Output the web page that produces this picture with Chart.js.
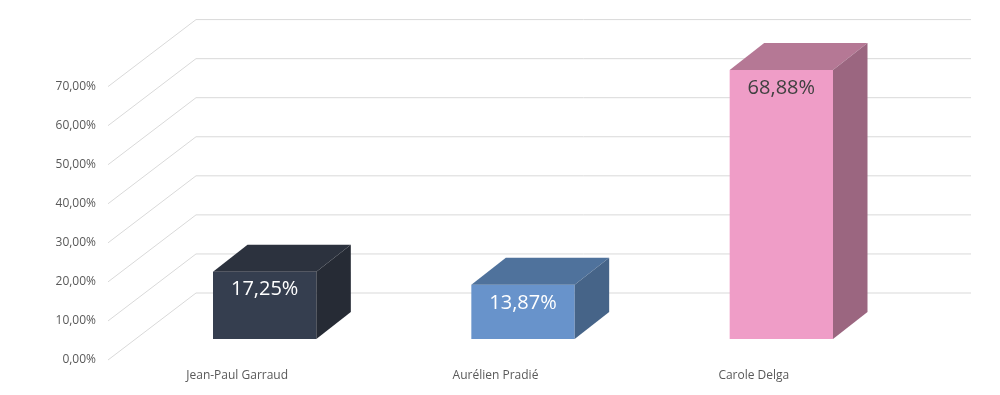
<!DOCTYPE html>
<html>
<head>
<meta charset="utf-8">
<script src="https://cdn.jsdelivr.net/npm/chart.js@4"></script>
<style>
  html, body { margin: 0; padding: 0; background: #fff; }
  #wrap { width: 1000px; height: 395px; }
</style>
</head>
<body>
<div id="wrap"><canvas id="c" width="1000" height="395"></canvas></div>
<script>
// --- DATOS ---
const candidats = ['Jean-Paul Garraud', 'Aurélien Pradié', 'Carole Delga'];
const scores = [17.25, 13.87, 68.88];
const yTicks = [0, 10, 20, 30, 40, 50, 60, 70];

// couleurs: face avant, dessus, côté
const faceColors = ['#353e4f', '#6893cb', '#ef9dc7'];
const topColors = ['#2c323e', '#4f729c', '#b57895'];
const sideColors = ['#262b35', '#466488', '#9b6680'];
const labelColors = ['#ffffff', '#ffffff', '#404040'];

// perspective (px)
const FRONT = { dx: -27.5, dy: 21 };   // plan des étiquettes
const BACK = { dx: 60.5, dy: -46 };    // mur du fond
const DEPTH = { dx: 34.5, dy: -27 };   // profondeur des barres

const fmt = v => v.toFixed(2).replace('.', ',') + '%';

// --- PLUGIN 3D ---
const pseudo3d = {
    id: 'pseudo3d',
    beforeDatasetsDraw(chart) {
        const { ctx, chartArea, scales } = chart;
        const y = scales.y;
        ctx.save();
        ctx.strokeStyle = '#d9d9d9';
        ctx.lineWidth = 1;
        yTicks.forEach(t => {
            const py = y.getPixelForValue(t);
            ctx.beginPath();
            ctx.moveTo(chartArea.left + FRONT.dx, py + FRONT.dy);
            ctx.lineTo(chartArea.left + BACK.dx, py + BACK.dy);
            ctx.lineTo(chartArea.right + BACK.dx, py + BACK.dy);
            ctx.stroke();
        });
        // graduations (plan avant)
        ctx.fillStyle = '#595959';
        ctx.font = '12px "Open Sans", "DejaVu Sans", sans-serif';
        ctx.textAlign = 'right';
        ctx.textBaseline = 'middle';
        yTicks.forEach(t => {
            const py = y.getPixelForValue(t);
            ctx.fillText(fmt(t), chartArea.left + FRONT.dx - 12, py + FRONT.dy);
        });
        // catégories
        ctx.textAlign = 'center';
        const x = scales.x;
        candidats.forEach((name, i) => {
            ctx.fillText(name, x.getPixelForValue(i) + FRONT.dx, y.getPixelForValue(0) + FRONT.dy + 16);
        });
        ctx.restore();
    },
    afterDatasetsDraw(chart) {
        const { ctx } = chart;
        const meta = chart.getDatasetMeta(0);
        ctx.save();
        meta.data.forEach((bar, i) => {
            const { x, y, base, width } = bar.getProps(['x', 'y', 'base', 'width'], true);
            const l = x - width / 2, r = x + width / 2;
            // dessus
            ctx.fillStyle = topColors[i];
            ctx.beginPath();
            ctx.moveTo(l, y);
            ctx.lineTo(l + DEPTH.dx, y + DEPTH.dy);
            ctx.lineTo(r + DEPTH.dx, y + DEPTH.dy);
            ctx.lineTo(r, y);
            ctx.closePath();
            ctx.fill();
            // côté
            ctx.fillStyle = sideColors[i];
            ctx.beginPath();
            ctx.moveTo(r, y);
            ctx.lineTo(r + DEPTH.dx, y + DEPTH.dy);
            ctx.lineTo(r + DEPTH.dx, base + DEPTH.dy);
            ctx.lineTo(r, base);
            ctx.closePath();
            ctx.fill();
            // valeur
            ctx.fillStyle = labelColors[i];
            ctx.font = '500 20px "Open Sans", "DejaVu Sans", sans-serif';
            ctx.textAlign = 'center';
            ctx.textBaseline = 'middle';
            ctx.fillText(fmt(scores[i]), x, y + 18);
        });
        ctx.restore();
    }
};

new Chart(document.getElementById('c'), {
    type: 'bar',
    data: {
        labels: candidats,
        datasets: [{
            data: scores,
            backgroundColor: faceColors,
            borderWidth: 0,
            categoryPercentage: 1,
            barPercentage: 0.4
        }]
    },
    options: {
        responsive: false,
        animation: false,
        layout: { padding: { left: 135.5, right: 89.5, top: 65.6, bottom: 56 } },
        plugins: { legend: { display: false }, tooltip: { enabled: false } },
        scales: {
            x: { display: false },
            y: { display: false, min: 0, max: 70 }
        }
    },
    plugins: [pseudo3d]
});
</script>
</body>
</html>
